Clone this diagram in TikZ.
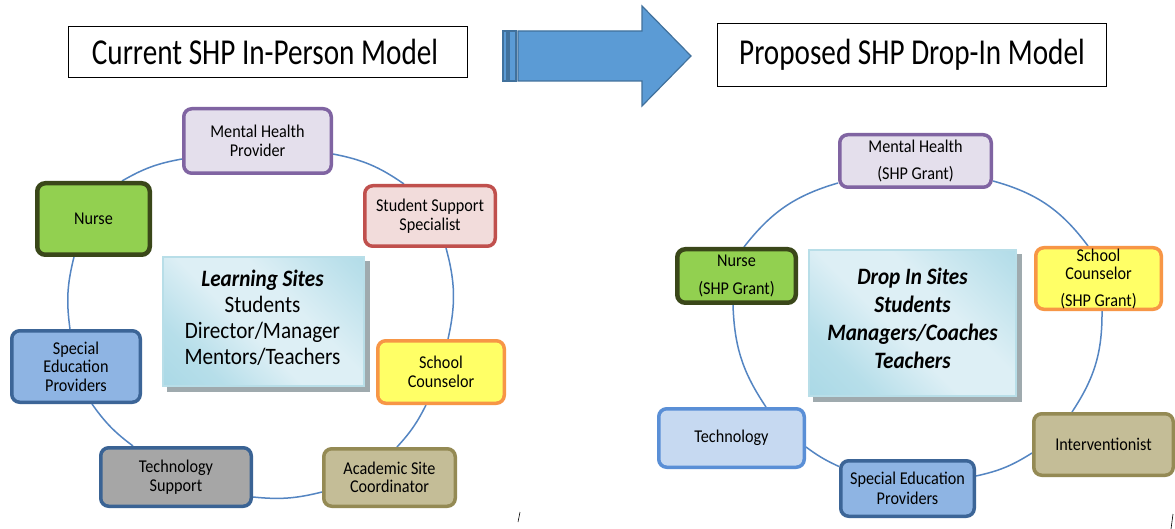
\documentclass[tikz,border=0pt]{standalone}
\usepackage{fontspec}
\setmainfont{Carlito}[FakeStretch=0.9]
\newfontfamily\headfont{Carlito}[FakeStretch=0.8]
\usetikzlibrary{calc,backgrounds}

% palette
\definecolor{mhfill}{HTML}{E4DFEC}
\definecolor{mhedge}{HTML}{8064A2}
\definecolor{sspfill}{HTML}{F2DCDB}
\definecolor{sspedge}{HTML}{C0504D}
\definecolor{nursefill}{HTML}{92D050}
\definecolor{nurseedge}{HTML}{3A4719}
\definecolor{scfill}{HTML}{FFFF66}
\definecolor{scedge}{HTML}{F79646}
\definecolor{spedfill}{HTML}{8EB4E3}
\definecolor{spededge}{HTML}{3C6597}
\definecolor{techgray}{HTML}{A6A6A6}
\definecolor{techedge}{HTML}{3A6394}
\definecolor{ascfill}{HTML}{C4BD97}
\definecolor{ascedge}{HTML}{948A54}
\definecolor{rtechfill}{HTML}{C6D9F1}
\definecolor{rtechedge}{HTML}{5A8FD6}
\definecolor{ringblue}{HTML}{5485C2}
\definecolor{arrowfill}{HTML}{5B9BD5}
\definecolor{arrowedge}{HTML}{41719C}
\definecolor{hublight}{HTML}{DDEFF5}
\definecolor{hubdark}{HTML}{9DD3E2}
\definecolor{hubedge}{HTML}{B8DEE8}
\definecolor{hubshadow}{HTML}{9FAAAE}

\pgfdeclareverticalshading{hubshade}{100bp}{%
  color(0bp)=(hubdark); color(28bp)=(hubdark!60!hublight);
  color(45bp)=(hublight); color(60bp)=(hublight);
  color(80bp)=(hubdark!55!hublight); color(100bp)=(hubdark)}

\tikzset{
  titlebox/.style={draw=black, line width=1pt, fill=white, inner sep=0pt,
    font=\headfont\fontsize{36.5}{40}\selectfont},
  role/.style={draw, rounded corners=8pt, line width=3.5pt, align=center,
    inner sep=0pt, font=\fontsize{18}{18.5}\selectfont},
  ring/.style={draw=ringblue, line width=1.5pt},
  hub/.style={draw=hubedge, line width=1.5pt, shading=hubshade,
    shading angle=-45, inner sep=0pt},
  hubtext/.style={align=center, inner sep=0pt},
  striped/.style={fill=arrowfill, draw=arrowedge, line width=1.2pt,
    line join=miter},
}

\begin{document}
\begin{tikzpicture}[x=1pt,y=-1pt]
\path[use as bounding box] (0,0) rectangle (1175,529);

% headings
\node[titlebox, minimum width=399pt, minimum height=51pt] (ltitle) at (268,52)
  {\hspace*{-6pt}Current SHP In-Person Model};
\node[titlebox, minimum width=389pt, minimum height=63pt] (rtitle) at (912,55)
  {Proposed SHP Drop-In Model};

% striped block arrow between the two headings
\path[striped] (503,31) rectangle (507,81);
\path[striped] (509,31) rectangle (516,81);
\path[striped] (518,31) -- (642,31) -- (642,6) -- (691,56) -- (642,106)
  -- (642,81) -- (518,81) -- cycle;

% ---------- current model ----------
\node[hub, minimum width=201pt, minimum height=129pt] (lhub) at (263.5,321.5) {};
\node[hubtext, font=\fontsize{23.5}{26}\selectfont] (lhubtext)
  at ($(lhub.center)+(-1,-3.5)$)
  {\textbf{\textit{Learning Sites}}\\Students\\Director/Manager\\Mentors/Teachers};

\node[role, draw=mhedge, fill=mhfill, minimum width=147.5pt, minimum height=64.5pt]
  (lmh) at (257.5,141) {Mental Health\\Provider};
\node[role, draw=sspedge, fill=sspfill, minimum width=130.5pt, minimum height=60.5pt]
  (lssp) at (430,216) {Student Support\\Specialist};
\node[role, draw=nurseedge, fill=nursefill, line width=4.5pt,
  minimum width=112.5pt, minimum height=71.5pt] (lnurse) at (93.5,219) {Nurse};
\node[role, draw=scedge, fill=scfill, minimum width=126.5pt, minimum height=62.5pt]
  (lsc) at (441,372) {School\\Counselor};
\node[role, draw=spededge, fill=spedfill, minimum width=128.5pt, minimum height=71.5pt]
  (lsped) at (76,366.5) {Special\\Education\\Providers};
\node[role, draw=techedge, fill=techgray, minimum width=150.5pt, minimum height=58.5pt]
  (ltech) at (176,477) {Technology\\Support};
\node[role, draw=ascedge, fill=ascfill, minimum width=131.5pt, minimum height=57.5pt]
  (lasc) at (389.5,477.5) {Academic Site\\Coordinator};

% ---------- proposed model ----------
\node[hub, minimum width=207pt, minimum height=146pt] (rhub) at (912.5,323) {};
\node[hubtext, font=\fontsize{23.5}{28}\selectfont\bfseries\itshape] (rhubtext)
  at ($(rhub.center)+(0,-5)$)
  {Drop In Sites\\Students\\Managers/Coaches\\Teachers};

\node[role, draw=mhedge, fill=mhfill, minimum width=151.5pt, minimum height=52.5pt]
  (rmh) at (915.5,161) {Mental Health\\[8.5pt](SHP Grant)};
\node[role, draw=nurseedge, fill=nursefill, line width=4.5pt,
  minimum width=118.5pt, minimum height=53.5pt] (rnurse) at (736.5,276)
  {Nurse\\[9pt](SHP Grant)};
\node[role, draw=scedge, fill=scfill, minimum width=125.5pt, minimum height=61.5pt]
  (rsc) at (1098.5,278.5) {School\\Counselor\\[8pt](SHP Grant)};
\node[role, draw=rtechedge, fill=rtechfill, minimum width=145.5pt, minimum height=58.5pt]
  (rtech) at (731.5,438) {Technology};
\node[role, draw=spededge, fill=spedfill, minimum width=133.5pt, minimum height=55.5pt]
  (rsped) at (907.5,488.5) {Special Education\\[1.5pt]Providers};
\node[role, draw=ascedge, fill=ascfill, minimum width=139.5pt, minimum height=61.5pt]
  (rint) at (1103.5,444.5) {Interventionist};

% page fill, hub shadows and ring segments behind the boxes
\begin{scope}[on background layer]
  \fill[white] (0,0) rectangle (1175,529);
  \fill[hubshadow] ($(lhub.north west)+(5,5)$) rectangle ($(lhub.south east)+(5,5)$);
  \fill[hubshadow] ($(rhub.north west)+(5,5)$) rectangle ($(rhub.south east)+(5,5)$);

  \draw[ring] ($(lmh.east)+(0,13)$) to[bend left=12] ($(lssp.north)+(-26,0)$);
  \draw[ring] ($(lssp.south)+(16,0)$) to[bend left=14] ($(lsc.north)+(7,0)$);
  \draw[ring] ($(lsc.south)+(-15,0)$) to[bend left=8] ($(lasc.north)+(7.5,0)$);
  \draw[ring] ($(lasc.west)+(0,14.5)$) to[bend left=10] ($(ltech.east)+(0,20)$);
  \draw[ring] ($(ltech.north)+(-43,0)$) to[bend left=9] ($(lsped.south)+(16,0)$);
  \draw[ring] ($(lsped.north)+(-6,0)$) to[bend left=11] ($(lnurse.south)+(-19.5,0)$);
  \draw[ring] ($(lnurse.north)+(28.5,0)$) to[bend left=10] ($(lmh.west)+(0,18)$);

  \draw[ring] ($(rmh.east)+(0,20)$) to[bend left=19] ($(rsc.north)+(-10.5,0)$);
  \draw[ring] ($(rsc.south)+(3.5,0)$) to[bend left=17] ($(rint.north)+(-31.5,0)$);
  \draw[ring] ($(rint.west)+(0,8.5)$) to[bend left=10] ($(rsped.east)+(0,-12.5)$);
  \draw[ring] ($(rsped.west)+(0,-22)$) to[bend left=6] ($(rtech.east)+(0,9)$);
  \draw[ring] ($(rtech.north)+(34.5,0)$) to[bend left=16] ($(rnurse.south)+(-3.5,0)$);
  \draw[ring] ($(rnurse.north)+(7.5,0)$) to[bend left=18] ($(rmh.west)+(0,22)$);
\end{scope}

% small stray strokes along the bottom edge
\draw[line width=0.6pt] (518,522) -- (520,512);
\draw[line width=0.6pt] (1171,529) -- (1173,514);
\end{tikzpicture}
\end{document}
